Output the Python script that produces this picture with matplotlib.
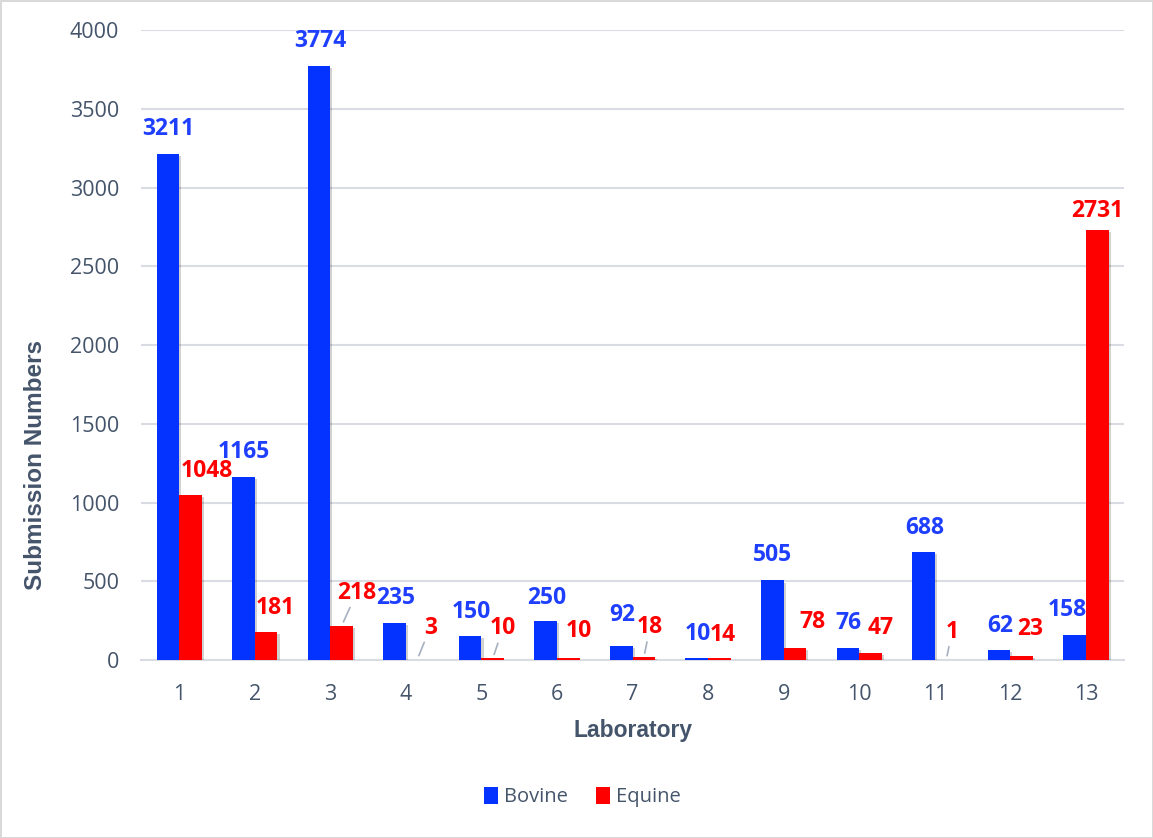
import numpy as np
import matplotlib.pyplot as plt
import matplotlib.patheffects as pe

# submission counts per laboratory
labs = [str(i) for i in range(1, 14)]
bovine = [3211, 1165, 3774, 235, 150, 250, 92, 10, 505, 76, 688, 62, 158]
equine = [1048, 181, 218, 3, 10, 10, 18, 14, 78, 47, 1, 23, 2731]

# label nudges (pixels from the top of each bar) and which ones get a leader line
bov_off = [(0, 25), (0, 25), (1, 25), (1, 25), (1, 24), (1, 23), (1, 31),
           (1, 24), (0, 25), (1, 25), (1, 24), (1, 24), (-7, 25)]
equ_off = [(16, 24), (9, 24), (15, 33), (13, 32), (10, 30), (10, 27), (6, 30),
           (3, 23), (17, 26), (10, 25), (6, 28), (8, 27), (0, 19)]
equ_leader = [False, False, True, True, True, False, True,
              False, False, False, True, False, False]

BLUE = "#0433ff"
BLUE_TXT = "#1f3fff"
RED = "#ff0000"
SLATE = "#44546a"
GRID = "#d9dde3"

fig = plt.figure(figsize=(11.53, 8.38), dpi=100, edgecolor="#d9d9d9", linewidth=2)
ax = fig.add_axes([0.1227, 0.2124, 0.8519, 0.7518])

x = np.arange(1, len(labs) + 1)
w = 0.30
shadow = [pe.SimplePatchShadow(offset=(1.5, -1.5), shadow_rgbFace="#000000", alpha=0.18), pe.Normal()]
b1 = ax.bar(x - w / 2, bovine, w, color=BLUE, label="Bovine", zorder=3, path_effects=shadow)
b2 = ax.bar(x + w / 2, equine, w, color=RED, label="Equine", zorder=3, path_effects=shadow)

lab_font = dict(family="Open Sans", fontsize=16.5, fontweight="bold")
for i in range(len(labs)):
    ax.annotate(str(bovine[i]), (x[i] - w / 2, bovine[i]), xytext=bov_off[i],
                textcoords="offset pixels", ha="center", va="center",
                color=BLUE_TXT, zorder=5, **lab_font)
    arrow = None
    if equ_leader[i]:
        arrow = dict(arrowstyle="-", color="#a6b0bf", lw=1.2, shrinkA=0, shrinkB=3)
    ax.annotate(str(equine[i]), (x[i] + w / 2, equine[i]), xytext=equ_off[i],
                textcoords="offset pixels", ha="center", va="center",
                color=RED, zorder=5, arrowprops=arrow, **lab_font)

ax.set_xlim(0.5, 13.5)
ax.set_ylim(0, 4000)
ax.set_yticks(np.arange(0, 4001, 500))
ax.set_xticks(x)
ax.set_xticklabels(labs)
ax.grid(axis="y", color=GRID, linewidth=1.5, zorder=0)
ax.set_axisbelow(True)
for s in ["top", "right", "left"]:
    ax.spines[s].set_visible(False)
ax.spines["bottom"].set_color(GRID)
ax.spines["bottom"].set_linewidth(1.5)
ax.tick_params(axis="both", length=0, labelsize=15.5, labelcolor=SLATE)
ax.tick_params(axis="y", pad=16)
ax.tick_params(axis="x", pad=17)
for t in ax.get_xticklabels() + ax.get_yticklabels():
    t.set_family("Open Sans")

ax.set_xlabel("Laboratory", family="Liberation Sans", fontsize=16.5, fontweight="bold",
              color=SLATE)
ax.xaxis.set_label_coords(0.5, -0.093)
ax.set_ylabel("Submission Numbers", family="Liberation Sans", fontsize=17.5,
              fontweight="bold", color=SLATE)
ax.yaxis.set_label_coords(-0.096, 0.31)

leg = fig.legend(handles=[b1, b2], labels=["Bovine", "Equine"], loc="center",
                 bbox_to_anchor=(0.505, 0.049), ncol=2, frameon=False,
                 prop=dict(family="Open Sans", size=14.5), handlelength=0.7,
                 handleheight=0.9, handletextpad=0.3, columnspacing=1.4)
for t in leg.get_texts():
    t.set_color(SLATE)
for h in leg.legend_handles:
    h.set_path_effects([])

fig.savefig("out.png", dpi=100)
